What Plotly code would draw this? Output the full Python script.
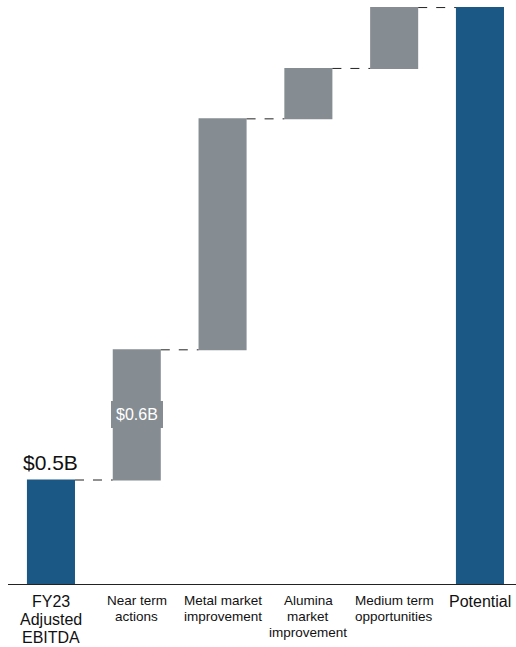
import plotly.graph_objects as go

categories = ["FY23 Adjusted EBITDA", "Near term actions", "Metal market improvement",
              "Alumina market improvement", "Medium term opportunities", "Potential"]
tick_labels = ["FY23<br>Adjusted<br>EBITDA", "Near term<br>actions", "Metal market<br>improvement",
               "Alumina<br>market<br>improvement", "Medium term<br>opportunities", "Potential"]
measures = ["absolute", "relative", "relative", "relative", "relative", "total"]
values = [0.5, 0.62, 1.10, 0.24, 0.29, 0]
value_labels = ["$0.5B", "$0.6B"]

BLUE = "#1b5886"
GRAY = "#858c92"
FONT = "Liberation Sans, Arial, sans-serif"

fig = go.Figure()
fig.add_trace(go.Waterfall(
    x=categories, y=values, measure=measures,
    increasing=dict(marker=dict(color=GRAY, line=dict(width=0))),
    decreasing=dict(marker=dict(color=GRAY, line=dict(width=0))),
    totals=dict(marker=dict(color=BLUE, line=dict(width=0))),
    connector=dict(mode="between", line=dict(color="#222222", width=1, dash="dash")),
    width=0.56, textinfo="none", hoverinfo="skip",
))

label_sizes = [16, 13.5, 13.5, 13.5, 13.5, 16]
for cat, lab, fs in zip(categories, tick_labels, label_sizes):
    big = fs >= 16
    first = 16 if big else 15
    step = 18 if big else 16.3
    for i, line in enumerate(lab.split("<br>")):
        fig.add_annotation(x=cat, y=0, yref="y", text=line, showarrow=False,
                           yanchor="middle", yshift=-(first + i * step),
                           font=dict(size=fs, color="#111111", family=FONT),
                           align="center", borderpad=0, borderwidth=0)

# value labels
fig.add_annotation(x=categories[0], y=values[0], text=value_labels[0], showarrow=False,
                   yanchor="bottom", yshift=4, font=dict(size=21, color="#111111", family=FONT))
fig.add_annotation(x=categories[1], y=values[0] + values[1] / 2, text=value_labels[1], showarrow=False,
                   yanchor="middle", yshift=0, bgcolor=GRAY, borderpad=5, borderwidth=0,
                   font=dict(size=16, color="white", family=FONT))

# baseline axis line
fig.add_shape(type="line", xref="paper", yref="y", x0=8 / 516, x1=1, y0=0, y1=0,
              line=dict(color="#222222", width=2))

fig.update_layout(
    width=516, height=647, margin=dict(l=0, r=0, t=0, b=62),
    paper_bgcolor="white", plot_bgcolor="white", showlegend=False,
    font=dict(family=FONT),
    xaxis=dict(range=[-0.594, 5.42], showticklabels=False, showgrid=False, zeroline=False,
               showline=False, ticks=""),
    yaxis=dict(range=[0, 2.786], visible=False, showgrid=False, zeroline=False),
)

fig.write_html("out.html")
